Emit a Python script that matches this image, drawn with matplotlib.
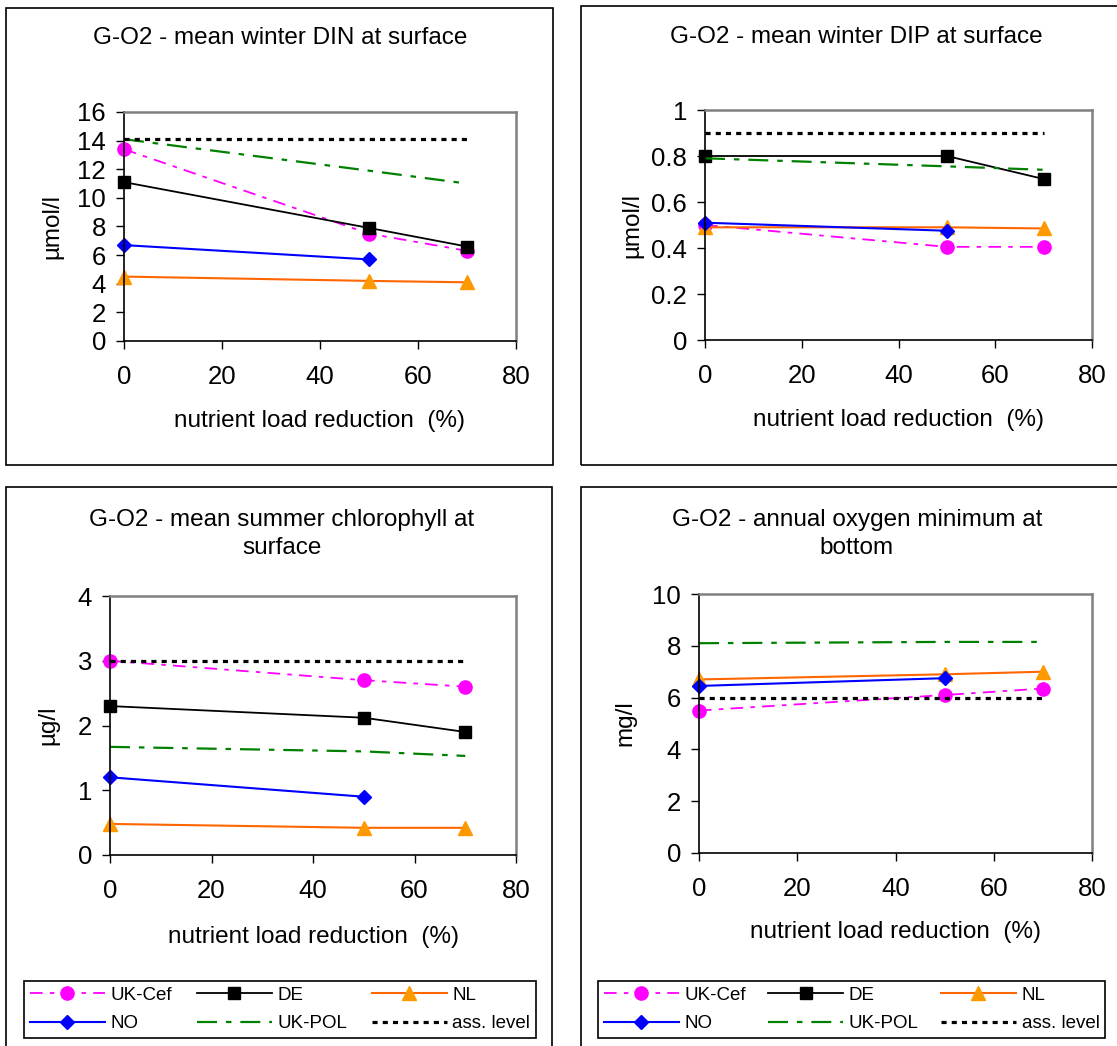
import numpy as np
import matplotlib
matplotlib.use('Agg')
import matplotlib.pyplot as plt
from matplotlib.patches import Rectangle
from matplotlib.ticker import FuncFormatter

plt.rcParams['font.family'] = ['Liberation Sans', 'DejaVu Sans']

W, H = 1117, 1046

reduction = [0, 50, 70]
reduction_no = [0, 50]

# mean winter DIN at surface (umol/l)
din_ukcef = [13.4, 7.5, 6.3]
din_de = [11.1, 7.9, 6.6]
din_nl = [4.5, 4.2, 4.1]
din_no = [6.7, 5.7]
din_ukpol = [14.1, 11.9, 11.0]
din_ass = [14.1, 14.1, 14.1]

# mean winter DIP at surface (umol/l)
dip_ukcef = [0.50, 0.405, 0.405]
dip_de = [0.80, 0.80, 0.70]
dip_nl = [0.49, 0.49, 0.485]
dip_no = [0.51, 0.475]
dip_ukpol = [0.79, 0.755, 0.74]
dip_ass = [0.9, 0.9, 0.9]

# mean summer chlorophyll at surface (ug/l)
chl_ukcef = [3.0, 2.7, 2.6]
chl_de = [2.3, 2.12, 1.9]
chl_nl = [0.48, 0.42, 0.42]
chl_no = [1.2, 0.9]
chl_ukpol = [1.67, 1.6, 1.53]
chl_ass = [3.0, 3.0, 3.0]

# annual oxygen minimum at bottom (mg/l)
oxy_ukcef = [5.5, 6.1, 6.35]
oxy_de = None
oxy_nl = [6.7, 6.9, 7.0]
oxy_no = [6.45, 6.75]
oxy_ukpol = [8.1, 8.15, 8.15]
oxy_ass = [6.0, 6.0, 6.0]

titles = ['G-O2 - mean winter DIN at surface',
          'G-O2 - mean winter DIP at surface',
          'G-O2 - mean summer chlorophyll at\nsurface',
          'G-O2 - annual oxygen minimum at\nbottom']
ylabels = ['µmol/l', 'µmol/l', 'µg/l', 'mg/l']
yticks = [np.arange(0, 17, 2), np.arange(0, 1.01, 0.2),
          np.arange(0, 5, 1), np.arange(0, 11, 2)]
xticks = [0, 20, 40, 60, 80]

series = [
    (din_ukcef, din_de, din_nl, din_no, din_ukpol, din_ass),
    (dip_ukcef, dip_de, dip_nl, dip_no, dip_ukpol, dip_ass),
    (chl_ukcef, chl_de, chl_nl, chl_no, chl_ukpol, chl_ass),
    (oxy_ukcef, oxy_de, oxy_nl, oxy_no, oxy_ukpol, oxy_ass),
]

# pixel layout: axes (x0, y0, x1, y1), panel box, title centre
axes_px = [(124, 112, 516, 341), (705, 110, 1092, 340),
           (110, 596, 516, 855), (699, 594, 1092, 853)]
box_px = [(6, 8, 553, 465), (581, 6, 1130, 465),
          (6, 487, 552, 1060), (581, 487, 1130, 1060)]
title_px = [(280, 38), (856, 37), (282, 534), (857, 534)]
xlabel_off = [80, 80, 82, 79]
ylabel_x = [52, 632, 48, 625]
legend_px = [None, None, (24, 979, 536, 1038), (598, 979, 1105, 1038)]


def frac(x0, y0, x1, y1):
    return [x0 / W, 1 - y1 / H, (x1 - x0) / W, (y1 - y0) / H]


fig = plt.figure(figsize=(W / 100, H / 100), dpi=100)

for b in box_px:
    fig.patches.append(Rectangle((b[0] / W, 1 - b[3] / H), (b[2] - b[0]) / W,
                                 (b[3] - b[1]) / H, transform=fig.transFigure,
                                 fill=False, ec='black', lw=1.2))

for i in range(4):
    ax = fig.add_axes(frac(*axes_px[i]))
    ukcef, de, nl, no, ukpol, ass = series[i]

    h_ukcef, = ax.plot(reduction, ukcef, color='#FF00FF', lw=1.3, dashes=(7, 4, 2.5, 4),
                       marker='o', ms=9.5, label='UK-Cef', clip_on=False)
    if de is not None:
        h_de, = ax.plot(reduction, de, color='black', lw=1.3, marker='s', ms=8.5,
                        label='DE', clip_on=False)
    else:
        h_de, = ax.plot([], [], color='black', lw=1.3, marker='s', ms=8.5, label='DE')
    h_nl, = ax.plot(reduction, nl, color='#FF6600', lw=1.5, marker='^', ms=10.5,
                    mfc='#FF9900', mec='#FF9900', label='NL', clip_on=False)
    h_no, = ax.plot(reduction_no, no, color='#0000FF', lw=1.5, marker='D', ms=7.5,
                    label='NO', clip_on=False)
    h_ukpol, = ax.plot(reduction, ukpol, color='#008000', lw=1.6, dashes=(9, 4, 2.5, 4),
                       label='UK-POL')
    h_ass, = ax.plot(reduction, ass, color='black', lw=2.3, dashes=(1.6, 1.6),
                     label='ass. level')

    ax.set_xlim(0, 80)
    ax.set_ylim(yticks[i][0], yticks[i][-1])
    ax.set_xticks(xticks)
    ax.set_yticks(yticks[i])
    ax.yaxis.set_major_formatter(FuncFormatter(lambda v, p: '{:g}'.format(round(v, 2))))
    ax.tick_params(direction='out', length=6, width=1, labelsize=18.5, color='black')
    ax.tick_params(axis='x', pad=11)
    ax.tick_params(axis='y', pad=7)
    for s in ['left', 'bottom']:
        ax.spines[s].set_color('black')
        ax.spines[s].set_linewidth(1.2)
    for s in ['top', 'right']:
        ax.spines[s].set_color('#808080')
        ax.spines[s].set_linewidth(1.8)

    ax0, ay0, ax1, ay1 = axes_px[i]
    ax.set_xlabel('nutrient load reduction  (%)', fontsize=17.5, va='center')
    ax.xaxis.set_label_coords(0.5, -xlabel_off[i] / (ay1 - ay0))
    ax.set_ylabel(ylabels[i], fontsize=17.5, va='center')
    ax.yaxis.set_label_coords((ylabel_x[i] - ax0) / (ax1 - ax0), 0.5)

    tx, ty = title_px[i]
    fig.text(tx / W, 1 - ty / H, titles[i], ha='center', va='center', fontsize=17.5,
             linespacing=1.3, multialignment='center')

    if legend_px[i] is not None:
        lx0, ly0, lx1, ly1 = legend_px[i]
        leg = ax.legend(handles=[h_ukcef, h_no, h_de, h_ukpol, h_nl, h_ass],
                        ncol=3, loc='lower left', mode='expand',
                        bbox_to_anchor=(lx0 / W, 1 - ly1 / H, (lx1 - lx0) / W, (ly1 - ly0) / H),
                        bbox_transform=fig.transFigure, borderaxespad=0,
                        fontsize=13.5, handlelength=4.0, handletextpad=0.3,
                        columnspacing=1.0, labelspacing=0.6, borderpad=0.3,
                        fancybox=False, framealpha=1, edgecolor='black', numpoints=1)
        leg.get_frame().set_linewidth(1.2)

fig.savefig('out.png', dpi=100)
